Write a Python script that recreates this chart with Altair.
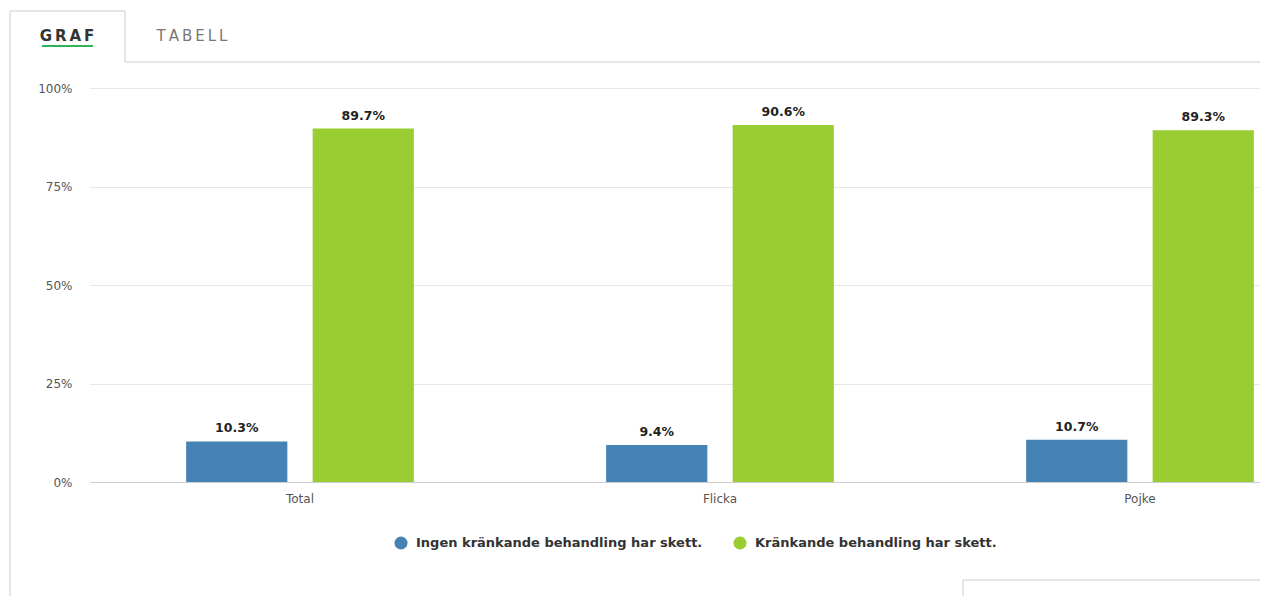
import altair as alt
import pandas as pd

categories = ["Total", "Flicka", "Pojke"]
series = ["Ingen kränkande behandling har skett.", "Kränkande behandling har skett."]
values_ingen = [10.3, 9.4, 10.7]
values_kr = [89.7, 90.6, 89.3]
colors = ["#4682b4", "#9acd32"]
y_ticks = [0, 25, 50, 75, 100]

rows = []
for c, a, b in zip(categories, values_ingen, values_kr):
    rows.append({"cat": c, "series": series[0], "value": a})
    rows.append({"cat": c, "series": series[1], "value": b})
df = pd.DataFrame(rows)
df["label"] = df["value"].map(lambda v: f"{v:.1f}%")

x_enc = alt.X("cat:N", sort=categories, title=None,
              scale=alt.Scale(range=[0, 1260], paddingInner=0, paddingOuter=0),
              axis=alt.Axis(labelAngle=0, ticks=False, grid=False, domainColor="#cccccc",
                            labelColor="#555555", labelFontSize=12, labelPadding=11,
                            labelFont="DejaVu Sans"))
xo_enc = alt.XOffset("series:N", sort=series,
                     scale=alt.Scale(paddingInner=0.2, paddingOuter=0.76))
y_enc = alt.Y("value:Q", title=None, scale=alt.Scale(domain=[0, 100]),
              axis=alt.Axis(values=y_ticks, labelExpr="datum.value + '%'", domain=False,
                            ticks=False, gridColor="#e6e6e6", labelColor="#555555",
                            labelFontSize=12, labelPadding=18, labelFont="DejaVu Sans"))

base = alt.Chart(df)
bars = base.mark_bar().encode(
    x=x_enc, xOffset=xo_enc, y=y_enc,
    color=alt.Color("series:N", sort=series, scale=alt.Scale(domain=series, range=colors),
                    legend=alt.Legend(title=None, orient="none", legendX=304, legendY=448,
                                      direction="horizontal", symbolType="circle",
                                      symbolSize=170, symbolOpacity=1, symbolStrokeWidth=0,
                                      labelFontSize=13, labelColor="#333333",
                                      labelFontWeight="bold", labelFont="DejaVu Sans",
                                      labelLimit=0, columnPadding=30, labelOffset=8)),
)
labels = base.mark_text(dy=-6, baseline="bottom", fontWeight="bold", fontSize=12.5,
                        color="#222222", font="DejaVu Sans").encode(
    x=x_enc, xOffset=xo_enc, y=y_enc, text="label:N")

one = pd.DataFrame({"a": [0]})
border = "#cccccc"
def hrule(x1, x2, y, color=border, w=1):
    return alt.Chart(one).mark_rule(color=color, strokeWidth=w).encode(
        x=alt.value(x1), x2=alt.value(x2), y=alt.value(y))
def vrule(x, y1, y2, color=border, w=1):
    return alt.Chart(one).mark_rule(color=color, strokeWidth=w).encode(
        x=alt.value(x), y=alt.value(y1), y2=alt.value(y2))

deco = [
    vrule(-80, -77, 508),
    hrule(-80, 35, -77),
    vrule(35, -77, -26),
    hrule(35, 1170, -26),
    hrule(873, 1170, 492),
    vrule(873, 492, 508),
    hrule(-48, 3, -42, color="#2fb35a", w=2),
    alt.Chart(one).mark_text(text="G\u2009R\u2009A\u2009F", fontWeight="bold", fontSize=15,
                             color="#333333", font="DejaVu Sans").encode(
        x=alt.value(-23), y=alt.value(-52)),
    alt.Chart(one).mark_text(text="T\u2009A\u2009B\u2009E\u2009L\u2009L", fontSize=15,
                             color="#777777", font="DejaVu Sans").encode(
        x=alt.value(102), y=alt.value(-52)),
]

chart = alt.layer(bars, labels, *deco).properties(
    width=1170, height=394, autosize="none",
    padding={"left": 82, "top": 80, "right": 0, "bottom": 114},
).configure_view(stroke=None)

chart.save("out.html", embed_options={"renderer": "svg", "actions": False})
